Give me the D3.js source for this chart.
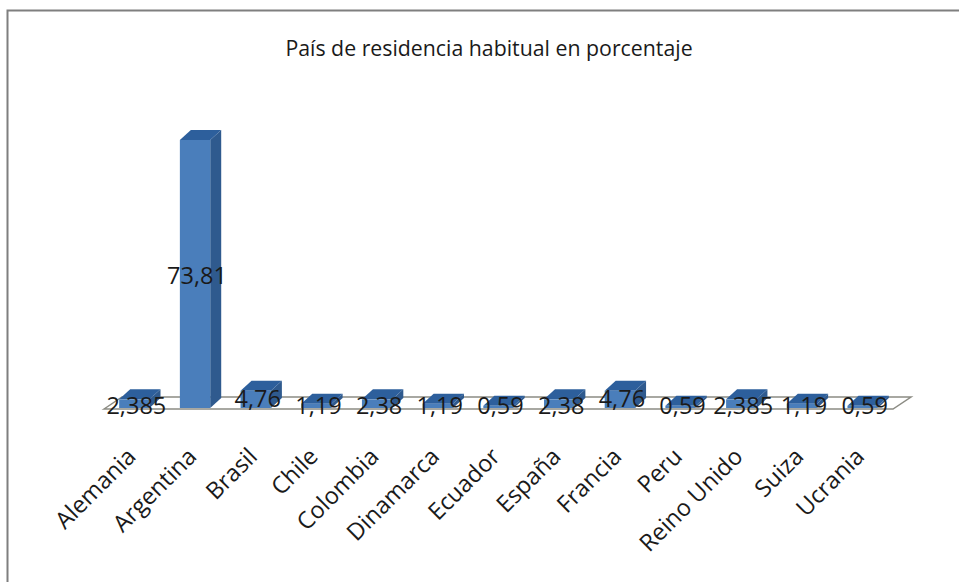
<!DOCTYPE html>
<html>
<head>
<meta charset="utf-8">
<script src="https://cdn.jsdelivr.net/npm/d3@7"></script>
<style>
html, body { margin: 0; padding: 0; background: #fff; }
svg { display: block; }
text { font-family: "Open Sans", "Liberation Sans", sans-serif; fill: #1a1a1a; }
</style>
</head>
<body>
<svg width="959" height="582"></svg>
<script>
var titleText = "País de residencia habitual en porcentaje";
var categories = ["Alemania", "Argentina", "Brasil", "Chile", "Colombia", "Dinamarca", "Ecuador", "España", "Francia", "Peru", "Reino Unido", "Suiza", "Ucrania"];
var values = [2.38, 73.8, 4.76, 1.19, 2.38, 1.19, 0.59, 2.38, 4.76, 0.59, 2.38, 1.19, 0.59];
var valueLabels = ["2,385", "73,81", "4,76", "1,19", "2,38", "1,19", "0,59", "2,38", "4,76", "0,59", "2,385", "1,19", "0,59"];

var svg = d3.select("svg");

// chart border, only top and left show in the picture
svg.append("path")
    .attr("d", "M7.5,582 V10.5 H959")
    .attr("fill", "none")
    .attr("stroke", "#7f7f7f")
    .attr("stroke-width", 2);

svg.append("text")
    .attr("x", 489)
    .attr("y", 56)
    .attr("text-anchor", "middle")
    .attr("font-size", 21.3)
    .text(titleText);

var x = d3.scaleBand()
    .domain(categories)
    .range([104, 893])
    .paddingInner(0.5)
    .paddingOuter(0.25);

var y = d3.scaleLinear()
    .domain([0, 73.8])
    .range([408, 140]);

var depthX = 11, depthY = 10;

// floor of the 3d plot
var floorLeft = x.range()[0], floorRight = x.range()[1], floorY = y(0);
svg.append("path")
    .attr("d", "M" + floorLeft + "," + (floorY + 1) + " L" + (floorLeft + 18) + "," + (floorY - 11) +
        " H" + (floorRight + 18) + " L" + floorRight + "," + (floorY + 1) + " Z")
    .attr("fill", "none")
    .attr("stroke", "#8c8c84")
    .attr("stroke-width", 1.5);

var bars = svg.selectAll(".bar")
    .data(categories)
    .enter()
    .append("g")
    .attr("class", "bar");

// right side
bars.append("path")
    .attr("fill", "#2f5a8e")
    .attr("d", function (d, i) {
        var r = x(d) + x.bandwidth(), t = y(values[i]), b = y(0);
        return "M" + r + "," + t + " L" + (r + depthX) + "," + (t - depthY) +
            " V" + (b - depthY) + " L" + r + "," + b + " Z";
    });

// top
bars.append("path")
    .attr("fill", "#2d5f9c")
    .attr("d", function (d, i) {
        var l = x(d), r = l + x.bandwidth(), t = y(values[i]);
        return "M" + l + "," + t + " L" + (l + depthX) + "," + (t - depthY) +
            " H" + (r + depthX) + " L" + r + "," + t + " Z";
    });

// front
bars.append("rect")
    .attr("fill", "#4a7ebb")
    .attr("x", function (d) { return x(d); })
    .attr("y", function (d, i) { return y(values[i]); })
    .attr("width", x.bandwidth())
    .attr("height", function (d, i) { return y(0) - y(values[i]); });

// value labels
svg.selectAll(".value-label")
    .data(categories)
    .enter()
    .append("text")
    .attr("class", "value-label")
    .attr("x", function (d) { return x(d) + x.bandwidth() / 2 + 2; })
    .attr("y", function (d, i) { return i === 1 ? 284 : (values[i] > 4 ? 407 : 414); })
    .attr("text-anchor", "middle")
    .attr("font-size", 23.5)
    .text(function (d, i) { return valueLabels[i]; });

// rotated category labels
svg.selectAll(".cat-label")
    .data(categories)
    .enter()
    .append("text")
    .attr("class", "cat-label")
    .attr("text-anchor", "end")
    .attr("font-size", 23.5)
    .attr("transform", function (d) {
        return "translate(" + (x(d) + x.bandwidth() / 2 + 3) + ",458) rotate(-45)";
    })
    .text(function (d) { return d; });
</script>
</body>
</html>
